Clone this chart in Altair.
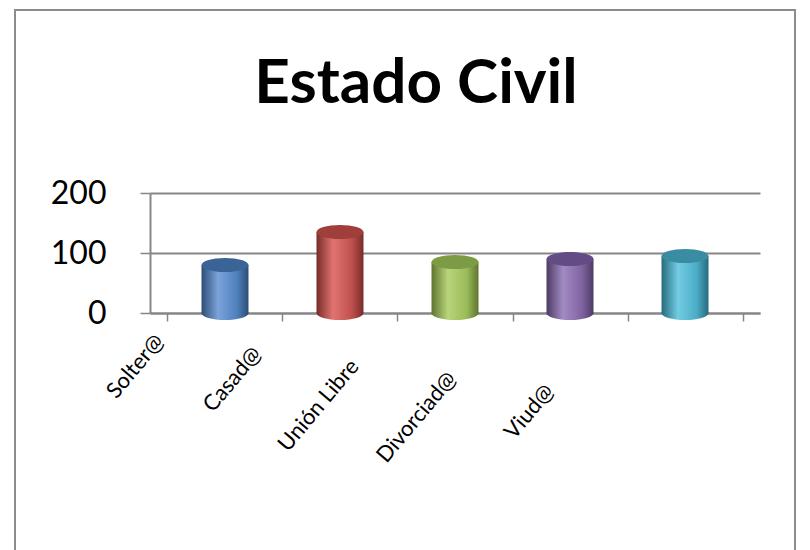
import altair as alt
import pandas as pd

# ---- data ----
categories = ["Solter@", "Casad@", "Unión Libre", "Divorciad@", "Viud@"]
values = [80, 135, 85, 90, 95]
y_ticks = [0, 100, 200]
title_text = ["Estado Civil"]

# ---- styles (Office 2007 palette) ----
base_cols = ["#4F81BD", "#C0504D", "#9BBB59", "#8064A2", "#4BACC6"]
light_cols = ["#7BA3DA", "#E07470", "#B9D47A", "#A28AC4", "#72CCE3"]
dark_cols = ["#2C4D75", "#772C2A", "#5F7530", "#4D3B62", "#276A7C"]
top_cols = ["#3B6496", "#A03E3B", "#7D9A44", "#634C85", "#3A8CA3"]

df = pd.DataFrame({"cat": categories, "val": values})

W, H = 610, 120
BAR_W = 47
GRAY = "#868686"
ellipse = ("M -1 0 C -1 -0.166 -0.552 -0.3 0 -0.3 C 0.552 -0.3 1 -0.166 1 0 "
           "C 1 0.166 0.552 0.3 0 0.3 C -0.552 0.3 -1 0.166 -1 0 Z")

x_axis = alt.Axis(
    title=None, labelAngle=-50, labelFontSize=22, labelFont="Lato",
    labelColor="#000000", labelOffset=alt.ExprRef("-66 - 70*datum.index"),
    labelPadding=alt.ExprRef("16 + 50*datum.index"),
    tickBand="extent", tickSize=8, tickColor=GRAY, tickWidth=1.5,
    domainColor=GRAY, domainWidth=2, grid=False,
)
y_axis = alt.Axis(
    title=None, values=y_ticks, labelFontSize=32, labelFont="Lato",
    labelColor="#000000", labelPadding=34, tickSize=10, tickColor=GRAY,
    tickWidth=1.5, domainColor=GRAY, domainWidth=2, grid=True,
    gridColor=GRAY, gridWidth=1.8,
)

x_enc = alt.X("cat:N", sort=categories,
              scale=alt.Scale(paddingInner=0, paddingOuter=0.152), axis=x_axis)
y_scale = alt.Scale(domain=[0, 200])

layers = []
for i, cat in enumerate(categories):
    grad = alt.Gradient(
        gradient="linear", x1=0, x2=1, y1=0, y2=0,
        stops=[
            alt.GradientStop(offset=0, color=dark_cols[i]),
            alt.GradientStop(offset=0.35, color=light_cols[i]),
            alt.GradientStop(offset=0.75, color=base_cols[i]),
            alt.GradientStop(offset=1, color=dark_cols[i]),
        ],
    )
    sub = alt.Chart(df).transform_filter(alt.datum.cat == cat)
    bottom = sub.mark_point(shape=ellipse, size=BAR_W ** 2, filled=True,
                            fill=grad, opacity=1, strokeWidth=0).encode(
        x=x_enc, y=alt.Y("zero:Q", scale=y_scale, axis=y_axis)
    ).transform_calculate(zero="0")
    body = sub.mark_bar(size=BAR_W, fill=grad).encode(
        x=x_enc, y=alt.Y("val:Q", scale=y_scale, axis=y_axis)
    )
    top = sub.mark_point(shape=ellipse, size=BAR_W ** 2, filled=True,
                         fill=top_cols[i], opacity=1, strokeWidth=0).encode(
        x=x_enc, y=alt.Y("val:Q", scale=y_scale, axis=y_axis)
    )
    layers += [bottom, body, top]

# outer chart border
frame = alt.Chart(df).mark_rect(fill=None, stroke="#8C8C8C", strokeWidth=2).encode(
    x=alt.value(-135), x2=alt.value(645), y=alt.value(-183), y2=alt.value(400)
)

title = alt.Chart(pd.DataFrame({"t": title_text})).mark_text(
    font="Lato", fontSize=62, fontWeight="bold", color="#000000",
    align="center", baseline="alphabetic"
).encode(text="t:N", x=alt.value(266), y=alt.value(-90))

chart = alt.layer(frame, title, *layers).properties(
    width=W, height=H,
    view=alt.ViewBackground(stroke="transparent", strokeWidth=0),
    autosize=alt.AutoSizeParams(type="none"),
    padding={"left": 150, "top": 193, "right": 50, "bottom": 237},
).configure_view(stroke="transparent", strokeWidth=0).configure(background="#FFFFFF")

chart.save("out.html", embed_options={"renderer": "svg", "actions": False})
